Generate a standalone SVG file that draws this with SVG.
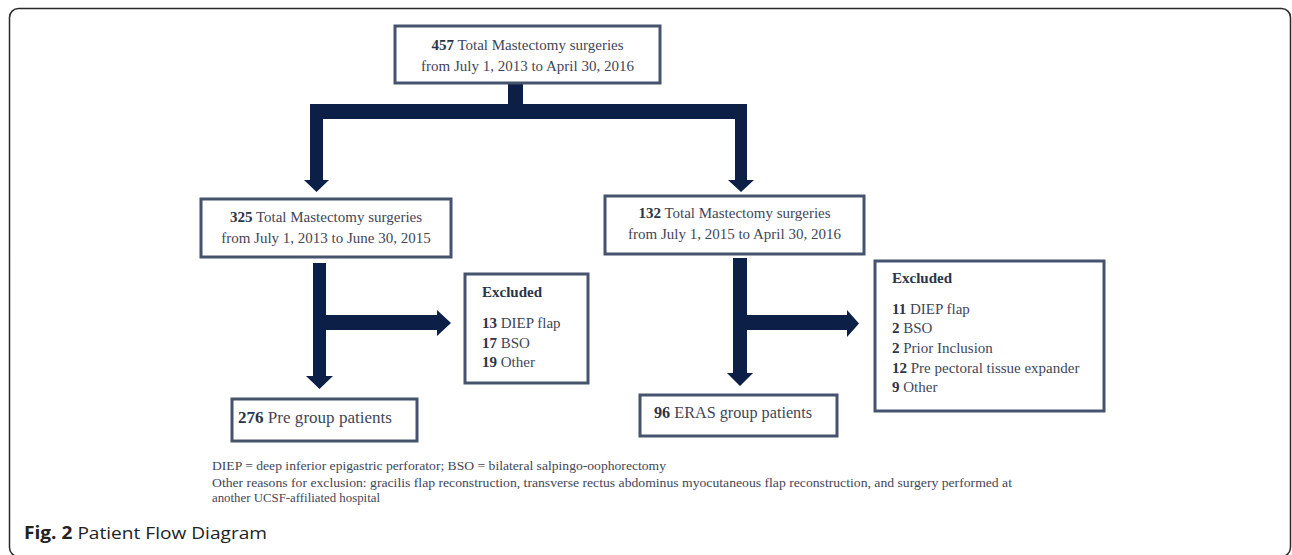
<svg xmlns="http://www.w3.org/2000/svg" width="1292" height="555" viewBox="0 0 1292 555">
<style>
.box{fill:#ffffff;stroke:#46536d;stroke-width:3}
.t{font-family:"Liberation Serif","Times New Roman",serif;font-size:15px;fill:#3f4658}
.g{font-size:16px}
.b{font-weight:bold;fill:#2c3447}
.fn{font-family:"Liberation Serif","Times New Roman",serif;font-size:12px;fill:#3f4658}
.arr{fill:#0b1f47}
.cap{font-family:"Open Sans","Noto Sans",sans-serif;font-size:17px;fill:#222222}
</style>
<rect x="9.5" y="8.5" width="1281" height="548" rx="9" fill="#ffffff" stroke="#2a2a2a" stroke-width="1.5"/>
<g id="connectors">
<path class="arr" d="M508,83 H523 V104 H747 V180 H754 L741,192 L728,180 H735 V119 H323 V180 H329 L316.5,192 L304,180 H310 V104 H508 Z"/>
<path class="arr" d="M313,263 H326 V315 H437 V310 L451,323 L437,336 V330 H326 V376 H333 L319.5,389 L306,376 H313 Z"/>
<path class="arr" d="M733,258 H747 V315 H847 V310 L859,323.5 L847,337 V330 H747 V373 H753 L740,386 L727,373 H733 Z"/>
</g>
<g id="node-total">
<rect class="box" x="395" y="26" width="265" height="57"/>
<text class="t" x="527.5" y="50" text-anchor="middle"><tspan class="b">457</tspan> Total Mastectomy surgeries</text>
<text class="t" x="527.5" y="71" text-anchor="middle">from July 1, 2013 to April 30, 2016</text>
</g>
<g id="node-pre-total">
<rect class="box" x="201" y="199" width="250" height="58"/>
<text class="t" x="326" y="222" text-anchor="middle"><tspan class="b">325</tspan> Total Mastectomy surgeries</text>
<text class="t" x="326" y="243" text-anchor="middle">from July 1, 2013 to June 30, 2015</text>
</g>
<g id="node-eras-total">
<rect class="box" x="605" y="196" width="259" height="58"/>
<text class="t" x="734.5" y="218" text-anchor="middle"><tspan class="b">132</tspan> Total Mastectomy surgeries</text>
<text class="t" x="734.5" y="239" text-anchor="middle">from July 1, 2015 to April 30, 2016</text>
</g>
<g id="node-pre-excluded">
<rect class="box" x="465" y="274" width="123" height="109"/>
<text class="t b" x="482" y="297">Excluded</text>
<text class="t" x="482" y="328"><tspan class="b">13</tspan> DIEP flap</text>
<text class="t" x="482" y="348"><tspan class="b">17</tspan> BSO</text>
<text class="t" x="482" y="367"><tspan class="b">19</tspan> Other</text>
</g>
<g id="node-eras-excluded">
<rect class="box" x="875" y="261" width="229" height="150"/>
<text class="t b" x="892" y="283">Excluded</text>
<text class="t" x="892" y="314"><tspan class="b">11</tspan> DIEP flap</text>
<text class="t" x="892" y="333"><tspan class="b">2</tspan> BSO</text>
<text class="t" x="892" y="353"><tspan class="b">2</tspan> Prior Inclusion</text>
<text class="t" x="892" y="373"><tspan class="b">12</tspan> Pre pectoral tissue expander</text>
<text class="t" x="892" y="392"><tspan class="b">9</tspan> Other</text>
</g>
<g id="node-pre-group">
<rect class="box" x="232" y="399" width="185" height="42"/>
<text class="t g" x="238" y="423" textLength="154" lengthAdjust="spacingAndGlyphs"><tspan class="b">276</tspan> Pre group patients</text>
</g>
<g id="node-eras-group">
<rect class="box" x="640" y="395" width="197" height="41"/>
<text class="t g" x="654" y="418" textLength="158" lengthAdjust="spacingAndGlyphs"><tspan class="b">96</tspan> ERAS group patients</text>
</g>
<g id="footnote">
<text class="fn" x="212" y="470" textLength="454" lengthAdjust="spacingAndGlyphs">DIEP = deep inferior epigastric perforator; BSO = bilateral salpingo-oophorectomy</text>
<text class="fn" x="212" y="487" textLength="800" lengthAdjust="spacingAndGlyphs">Other reasons for exclusion: gracilis flap reconstruction, transverse rectus abdominus myocutaneous flap reconstruction, and surgery performed at</text>
<text class="fn" x="212" y="502" textLength="168" lengthAdjust="spacingAndGlyphs">another UCSF-affiliated hospital</text>
</g>
<g id="caption">
<text class="cap" x="24" y="539" textLength="243" lengthAdjust="spacingAndGlyphs"><tspan font-weight="bold">Fig. 2</tspan> Patient Flow Diagram</text>
</g>
</svg>
